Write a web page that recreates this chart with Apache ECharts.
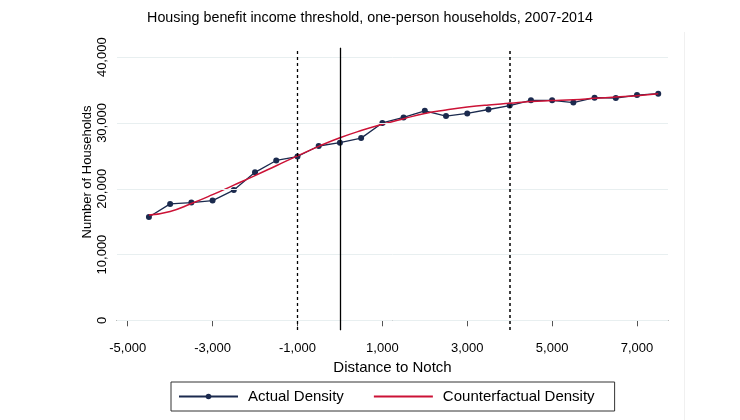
<!DOCTYPE html>
<html>
<head>
<meta charset="utf-8">
<script src="https://cdn.jsdelivr.net/npm/echarts@6/dist/echarts.min.js"></script>
<style>
html,body{margin:0;padding:0;background:#fff;}
#chart{width:740px;height:420px;}
</style>
</head>
<body>
<div id="chart"></div>
<script>
// Data
const distance = [-4500,-4000,-3500,-3000,-2500,-2000,-1500,-1000,-500,0,500,1000,1500,2000,2500,3000,3500,4000,4500,5000,5500,6000,6500,7000,7500];
const actualDensity = [15700,17700,17900,18200,19800,22500,24300,24900,26500,27000,27700,30000,30850,31850,31050,31450,32050,32650,33450,33450,33100,33850,33800,34250,34450];
const counterfactualDensity = [16000,16550,17750,19100,20550,22000,23500,25000,26450,27750,28850,29800,30650,31450,31980,32420,32750,33000,33250,33400,33550,33750,33950,34150,34450];
const xTicks = [-5000,-3000,-1000,1000,3000,5000,7000];
const yTicks = [0,10000,20000,30000,40000];
const notchLine = 0;
const boundLines = [-1000,4000];

const fmt = v => v.toLocaleString('en-US');
const chart = echarts.init(document.getElementById('chart'));
const font = 'Liberation Sans, Arial, sans-serif';

chart.setOption({
  backgroundColor: '#ffffff',
  animation: false,
  title: {
    text: 'Housing benefit income threshold, one-person households, 2007-2014',
    left: 'center', top: 6,
    textStyle: {fontFamily: font, fontSize: 14.3, fontWeight: 'normal', color: '#000'}
  },
  grid: {left: 117, right: 72, top: 48, bottom: 90},
  xAxis: {
    type: 'value', min: -5252, max: 7730,
    name: 'Distance to Notch', nameLocation: 'middle', nameGap: 27,
    nameTextStyle: {fontFamily: font, fontSize: 15, color: '#000'},
    axisLine: {show: true, lineStyle: {color: '#555', width: 1}},
    axisTick: {show: true, length: 6, customValues: xTicks, lineStyle: {color: '#555'}},
    axisLabel: {customValues: xTicks, margin: 12, fontFamily: font, fontSize: 13, color: '#000', formatter: fmt},
    splitLine: {show: false}
  },
  yAxis: {
    type: 'value', min: -1475, max: 41400,
    axisLine: {show: true, lineStyle: {color: '#555', width: 1}},
    axisTick: {show: true, length: 6, customValues: yTicks, lineStyle: {color: '#555'}},
    axisLabel: {customValues: yTicks, rotate: 90, margin: 8, fontFamily: font, fontSize: 13, color: '#000', formatter: fmt},
    splitLine: {show: false}
  },
  legend: {
    left: 171, top: 382,
    padding: [7, 20, 7, 7],
    borderColor: '#333', borderWidth: 1,
    itemWidth: 59, itemHeight: 7, itemGap: 29,
    textStyle: {fontFamily: font, fontSize: 15, color: '#000', padding: [0,0,0,5]},
    data: [
      {name: 'Actual Density'},
      {name: 'Counterfactual Density', itemStyle: {color: 'rgba(0,0,0,0)', opacity: 0, borderWidth: 0}}
    ]
  },
  graphic: [
    {type: 'text', x: 87, y: 172, rotation: Math.PI/2,
     style: {text: 'Number of Households', fontFamily: font, fontSize: 13, fill: '#000', align: 'center', verticalAlign: 'middle'}},
    {type: 'line', shape: {x1: 684.5, y1: 32, x2: 684.5, y2: 420}, style: {stroke: '#f0f0f0', lineWidth: 1}, silent: true}
  ],
  series: [
    {
      name: 'grid', type: 'line', data: [], silent: true,
      markLine: {
        silent: true, symbol: 'none', label: {show: false},
        lineStyle: {color: '#e8eff0', width: 1, type: 'solid'},
        data: yTicks.map(v => ({yAxis: v}))
      }
    },
    {
      name: 'Actual Density', type: 'line',
      data: distance.map((d, i) => [d, actualDensity[i]]),
      symbol: 'circle', symbolSize: 6,
      itemStyle: {color: '#1b2a4e'},
      lineStyle: {color: '#1b2a4e', width: 1.3},
      z: 3,
      markLine: {
        silent: true, symbol: 'none', label: {show: false},
        data: [
          {xAxis: notchLine, lineStyle: {color: '#000', width: 1.3, type: 'solid'}},
          {xAxis: boundLines[0], lineStyle: {color: '#000', width: 1.3, type: [3, 3]}},
          {xAxis: boundLines[1], lineStyle: {color: '#000', width: 1.5, type: [3, 3]}}
        ]
      }
    },
    {
      name: 'Counterfactual Density', type: 'line',
      data: distance.map((d, i) => [d, counterfactualDensity[i]]),
      symbol: 'none', smooth: true,
      itemStyle: {color: '#cc1236'},
      lineStyle: {color: '#cc1236', width: 1.5},
      z: 4
    }
  ]
});
</script>
</body>
</html>
